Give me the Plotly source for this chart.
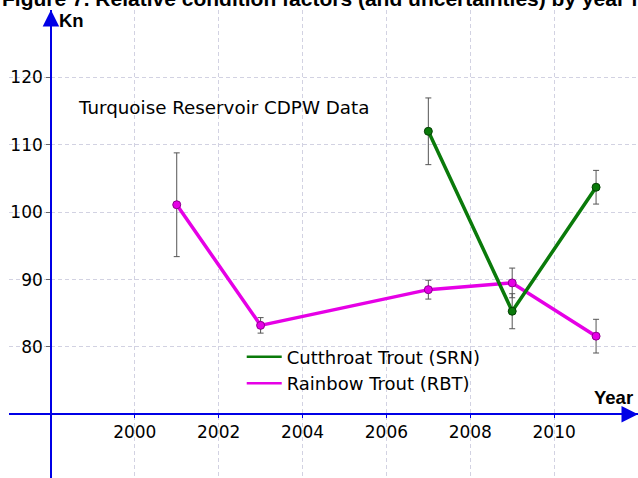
import plotly.graph_objects as go

# ---- data ----
rbt_years = [2001, 2003, 2007, 2009, 2011]
rbt_kn = [101.1, 83.2, 88.5, 89.5, 81.6]
rbt_err = [7.7, 1.15, 1.4, 2.2, 2.5]

srn_years = [2007, 2009, 2011]
srn_kn = [112.0, 85.3, 103.7]
srn_err = [4.95, 2.6, 2.5]

x_ticks = [2000, 2002, 2004, 2006, 2008, 2010]
y_ticks = [80, 90, 100, 110, 120]

series_names = ["Cutthroat Trout (SRN)", "Rainbow Trout (RBT)"]
title_text = "Figure 7. Relative condition factors (and uncertainties) by year for Turquoise Reservoir"
note_text = "Turquoise Reservoir CDPW Data"

X_RANGE = [1997, 2012]
Y_RANGE = [60.55, 130]
X_CROSS = 1998  # where the y axis sits
Y_CROSS = 70    # where the x axis sits

MAGENTA = "#E600E6"
GREEN = "#0A7A0A"
BLUE = "#0000E6"
FONT = "DejaVu Sans"
BOLD_FONT = "Liberation Sans"
GRID = "#D2D2E2"

fig = go.Figure()

fig.add_trace(go.Scatter(
    x=rbt_years, y=rbt_kn, mode="lines+markers", showlegend=False,
    line=dict(color=MAGENTA, width=3.5),
    marker=dict(size=8, color=MAGENTA, line=dict(color="#8B008B", width=1)),
    error_y=dict(type="data", array=rbt_err, color="#555555", thickness=1, width=3),
))
fig.add_trace(go.Scatter(
    x=srn_years, y=srn_kn, mode="lines+markers", showlegend=False,
    line=dict(color=GREEN, width=3.5),
    marker=dict(size=8, color=GREEN, line=dict(color="#044004", width=1)),
    error_y=dict(type="data", array=srn_err, color="#555555", thickness=1, width=3),
))
# legend-only entries (line samples only)
fig.add_trace(go.Scatter(x=[None], y=[None], mode="lines", name=series_names[0],
                         line=dict(color=GREEN, width=2.5)))
fig.add_trace(go.Scatter(x=[None], y=[None], mode="lines", name=series_names[1],
                         line=dict(color=MAGENTA, width=2.5)))

x_pos = (Y_CROSS - Y_RANGE[0]) / (Y_RANGE[1] - Y_RANGE[0])
y_pos = (X_CROSS - X_RANGE[0]) / (X_RANGE[1] - X_RANGE[0])

fig.update_layout(
    width=638, height=478,
    margin=dict(l=9, r=0, t=10, b=0),
    paper_bgcolor="white", plot_bgcolor="white",
    font=dict(family=FONT, size=17, color="black"),
    xaxis=dict(range=X_RANGE, anchor="free", position=x_pos,
               tickvals=x_ticks, ticktext=[str(v) for v in x_ticks],
               showline=True, linecolor=BLUE, linewidth=1.5,
               ticks="outside", ticklen=3, tickcolor=BLUE,
               showgrid=True, gridcolor=GRID, griddash="4px,3px", gridwidth=1,
               zeroline=False, tickfont=dict(size=17), automargin=False),
    yaxis=dict(range=Y_RANGE, anchor="free", position=y_pos,
               tickvals=y_ticks, ticktext=[str(v) for v in y_ticks],
               showline=True, linecolor=BLUE, linewidth=1.5,
               ticks="outside", ticklen=4, tickcolor="#666666",
               showgrid=True, gridcolor=GRID, griddash="4px,3px", gridwidth=1,
               zeroline=False, tickfont=dict(size=17), automargin=False),
    legend=dict(x=0.37, y=0.298, xanchor="left", yanchor="top",
                bgcolor="rgba(0,0,0,0)", font=dict(size=18),
                tracegroupgap=0, itemwidth=35),
    showlegend=True,
)

annotations = [
    # axis arrowheads
    dict(x=X_RANGE[1], y=Y_CROSS, ax=X_RANGE[1] - 0.4, ay=Y_CROSS, xref="x", yref="y",
         axref="x", ayref="y", text="", showarrow=True, arrowhead=2, arrowsize=2.2,
         arrowwidth=1.5, arrowcolor=BLUE, standoff=0),
    dict(x=X_CROSS, y=Y_RANGE[1], ax=X_CROSS, ay=Y_RANGE[1] - 2, xref="x", yref="y",
         axref="x", ayref="y", text="", showarrow=True, arrowhead=2, arrowsize=2.2,
         arrowwidth=1.5, arrowcolor=BLUE, standoff=0),
    # axis names
    dict(x=X_CROSS, y=Y_RANGE[1], xref="x", yref="y", text="<b>Kn</b>", showarrow=False,
         xanchor="left", yanchor="top", xshift=6, yshift=2,
         font=dict(family=BOLD_FONT, size=18.5)),
    dict(x=X_RANGE[1], y=Y_CROSS, xref="x", yref="y", text="<b>Year</b>", showarrow=False,
         xanchor="right", yanchor="bottom", xshift=-3, yshift=4,
         font=dict(family=BOLD_FONT, size=18.5)),
    # note
    dict(x=1998.68, y=115.6, xref="x", yref="y", text=note_text, showarrow=False,
         xanchor="left", yanchor="middle", xshift=-3, font=dict(size=18.3)),
    # cut-off title
    dict(x=0, y=1.025, xref="paper", yref="paper", text="<b>" + title_text + "</b>",
         showarrow=False, xanchor="left", yanchor="middle", xshift=-9,
         font=dict(family=BOLD_FONT, size=21)),
]
fig.update_layout(annotations=annotations)

fig.write_html("out.html", config={"displayModeBar": False},
               post_script="document.body.style.margin='0';")
